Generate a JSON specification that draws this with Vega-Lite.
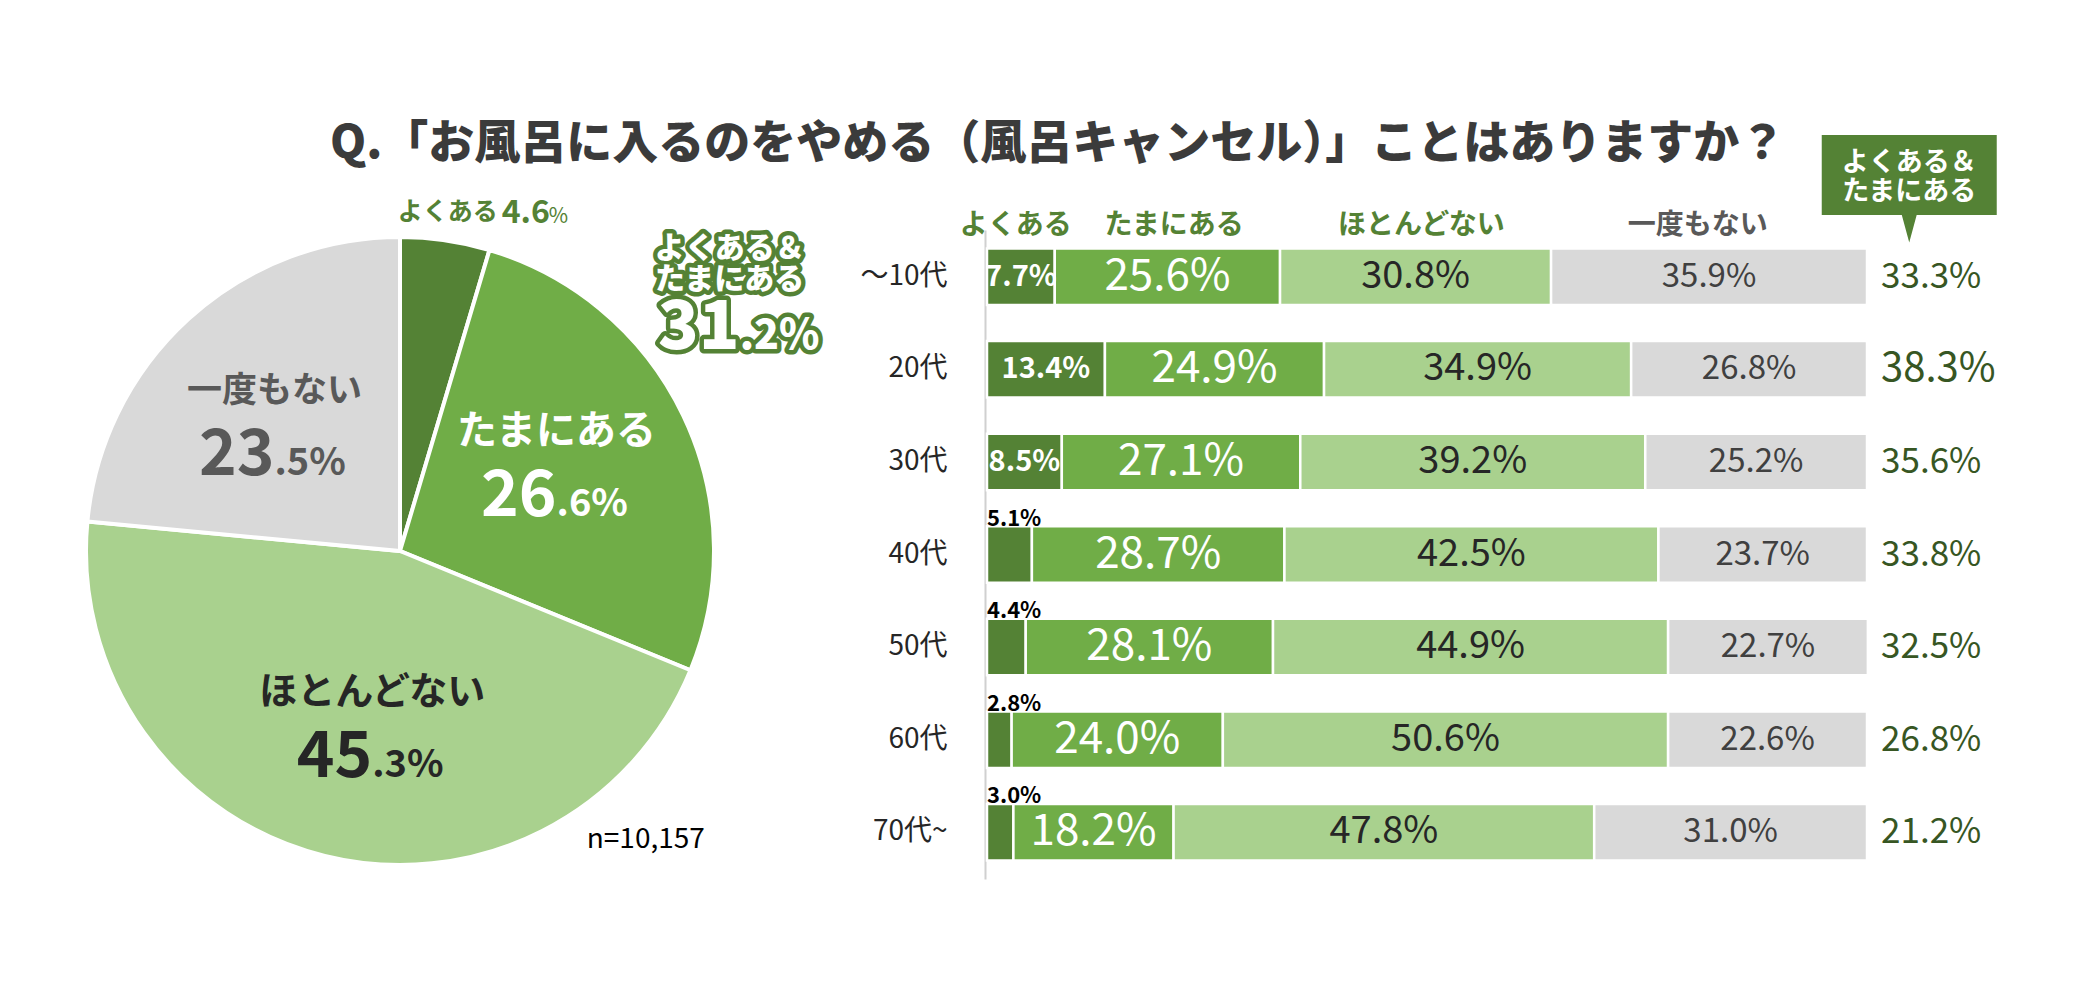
{
  "$schema": "https://vega.github.io/schema/vega-lite/v6.json",
  "background": "white",
  "padding": {"left": 78, "top": 120, "right": 10, "bottom": 10},
  "title": {
    "text": "Q.「お風呂に入るのをやめる（風呂キャンセル）」ことはありますか？",
    "font": "Noto Sans CJK JP",
    "fontSize": 46,
    "fontWeight": 900,
    "color": "#3b3b3b",
    "anchor": "start",
    "frame": "group",
    "dx": 244,
    "offset": -33
  },
  "config": {"view": {"stroke": null}, "font": "Noto Sans CJK JP"},
  "datasets": {
    "pie": [
      {"cat": "よくある", "ord": 1, "value": 4.6, "int": "", "dec": ""},
      {"cat": "たまにある", "ord": 2, "value": 26.6, "int": "26", "dec": ".6%"},
      {"cat": "ほとんどない", "ord": 3, "value": 45.3, "int": "45", "dec": ".3%"},
      {"cat": "一度もない", "ord": 4, "value": 23.5, "int": "23", "dec": ".5%"}
    ],
    "bars": [
      {"age": "～10代", "cat": "よくある", "ord": 1, "value": 0.077},
      {"age": "～10代", "cat": "たまにある", "ord": 2, "value": 0.256},
      {"age": "～10代", "cat": "ほとんどない", "ord": 3, "value": 0.308},
      {"age": "～10代", "cat": "一度もない", "ord": 4, "value": 0.359},
      {"age": "20代", "cat": "よくある", "ord": 1, "value": 0.134},
      {"age": "20代", "cat": "たまにある", "ord": 2, "value": 0.249},
      {"age": "20代", "cat": "ほとんどない", "ord": 3, "value": 0.349},
      {"age": "20代", "cat": "一度もない", "ord": 4, "value": 0.268},
      {"age": "30代", "cat": "よくある", "ord": 1, "value": 0.085},
      {"age": "30代", "cat": "たまにある", "ord": 2, "value": 0.271},
      {"age": "30代", "cat": "ほとんどない", "ord": 3, "value": 0.392},
      {"age": "30代", "cat": "一度もない", "ord": 4, "value": 0.252},
      {"age": "40代", "cat": "よくある", "ord": 1, "value": 0.051},
      {"age": "40代", "cat": "たまにある", "ord": 2, "value": 0.287},
      {"age": "40代", "cat": "ほとんどない", "ord": 3, "value": 0.425},
      {"age": "40代", "cat": "一度もない", "ord": 4, "value": 0.237},
      {"age": "50代", "cat": "よくある", "ord": 1, "value": 0.044},
      {"age": "50代", "cat": "たまにある", "ord": 2, "value": 0.281},
      {"age": "50代", "cat": "ほとんどない", "ord": 3, "value": 0.449},
      {"age": "50代", "cat": "一度もない", "ord": 4, "value": 0.227},
      {"age": "60代", "cat": "よくある", "ord": 1, "value": 0.028},
      {"age": "60代", "cat": "たまにある", "ord": 2, "value": 0.240},
      {"age": "60代", "cat": "ほとんどない", "ord": 3, "value": 0.506},
      {"age": "60代", "cat": "一度もない", "ord": 4, "value": 0.226},
      {"age": "70代~", "cat": "よくある", "ord": 1, "value": 0.030},
      {"age": "70代~", "cat": "たまにある", "ord": 2, "value": 0.182},
      {"age": "70代~", "cat": "ほとんどない", "ord": 3, "value": 0.478},
      {"age": "70代~", "cat": "一度もない", "ord": 4, "value": 0.310}
    ],
    "sums": [
      {"age": "～10代", "total": 0.333},
      {"age": "20代", "total": 0.383},
      {"age": "30代", "total": 0.356},
      {"age": "40代", "total": 0.338},
      {"age": "50代", "total": 0.325},
      {"age": "60代", "total": 0.268},
      {"age": "70代~", "total": 0.212}
    ]
  },
  "bounds": "flush",
  "spacing": 273,
  "hconcat": [
    {
      "width": 628,
      "height": 642,
      "data": {"name": "pie"},
      "layer": [
        {
          "mark": {"type": "arc", "stroke": "white", "strokeWidth": 4},
          "encoding": {
            "theta": {"field": "value", "type": "quantitative", "stack": true},
            "order": {"field": "ord", "type": "quantitative"},
            "color": {
              "field": "cat", "type": "nominal", "legend": null,
              "scale": {"domain": ["よくある", "たまにある", "ほとんどない", "一度もない"], "range": ["#548235", "#70ad47", "#a9d18e", "#d9d9d9"]}
            }
          }
        },
        {
          "mark": {"type": "text", "radius": 178, "dy": -34, "fontWeight": "bold", "baseline": "middle", "font": "Noto Sans CJK JP"},
          "encoding": {
            "theta": {"field": "value", "type": "quantitative", "stack": true, "bandPosition": 0.47},
            "order": {"field": "ord", "type": "quantitative"},
            "text": {"condition": {"test": "datum.cat === 'よくある'", "value": ""}, "field": "cat", "type": "nominal"},
            "color": {"condition": [{"test": "datum.cat === 'たまにある'", "value": "white"}, {"test": "datum.cat === 'ほとんどない'", "value": "#262626"}], "value": "#595959"},
            "size": {"condition": [{"test": "datum.cat === 'たまにある'", "value": 40}, {"test": "datum.cat === 'ほとんどない'", "value": 38}], "value": 35}
          }
        },
        {
          "mark": {"type": "text", "radius": 178, "dy": 50, "fontWeight": "bold", "baseline": "alphabetic", "align": "right", "fontSize": 64, "font": "Noto Sans CJK JP"},
          "encoding": {
            "theta": {"field": "value", "type": "quantitative", "stack": true, "bandPosition": 0.47},
            "order": {"field": "ord", "type": "quantitative"},
            "text": {"field": "int", "type": "nominal"},
            "color": {"condition": [{"test": "datum.cat === 'たまにある'", "value": "white"}, {"test": "datum.cat === 'ほとんどない'", "value": "#262626"}], "value": "#595959"}
          }
        },
        {
          "mark": {"type": "text", "radius": 178, "dy": 50, "fontWeight": "bold", "baseline": "alphabetic", "align": "left", "fontSize": 38, "font": "Noto Sans CJK JP"},
          "encoding": {
            "theta": {"field": "value", "type": "quantitative", "stack": true, "bandPosition": 0.47},
            "order": {"field": "ord", "type": "quantitative"},
            "text": {"field": "dec", "type": "nominal"},
            "color": {"condition": [{"test": "datum.cat === 'たまにある'", "value": "white"}, {"test": "datum.cat === 'ほとんどない'", "value": "#262626"}], "value": "#595959"}
          }
        },
        {
          "data": {"values": [{"t": "よくある"}]},
          "mark": {"type": "text", "radius": 354, "align": "right", "baseline": "middle", "dx": -3, "fontSize": 25, "fontWeight": "bold", "color": "#548235", "font": "Noto Sans CJK JP"},
          "encoding": {"theta": {"datum": 4.59}, "text": {"field": "t"}}
        },
        {
          "data": {"values": [{"t": "4.6"}]},
          "mark": {"type": "text", "radius": 354, "align": "left", "baseline": "alphabetic", "dx": 1, "dy": 11, "fontSize": 32, "fontWeight": "bold", "color": "#548235", "font": "Noto Sans CJK JP"},
          "encoding": {"theta": {"datum": 4.59}, "text": {"field": "t"}}
        },
        {
          "data": {"values": [{"t": "%"}]},
          "mark": {"type": "text", "radius": 354, "align": "left", "baseline": "alphabetic", "dx": 48, "dy": 11, "fontSize": 21, "color": "#548235", "font": "Noto Sans CJK JP"},
          "encoding": {"theta": {"datum": 4.59}, "text": {"field": "t"}}
        },
        {
          "data": {"values": [{"t": ["よくある＆", "たまにある"]}]},
          "mark": {"type": "text", "radius": 438, "align": "center", "baseline": "middle", "dy": -14, "lineHeight": 31, "fontSize": 30, "fontWeight": 900, "color": "#548235", "stroke": "#548235", "strokeWidth": 9, "strokeJoin": "round", "font": "Noto Sans CJK JP"},
          "encoding": {"theta": {"datum": 13.56}, "text": {"field": "t"}}
        },
        {
          "data": {"values": [{"t": ["よくある＆", "たまにある"]}]},
          "mark": {"type": "text", "radius": 438, "align": "center", "baseline": "middle", "dy": -14, "lineHeight": 31, "fontSize": 30, "fontWeight": 900, "color": "white", "font": "Noto Sans CJK JP"},
          "encoding": {"theta": {"datum": 13.56}, "text": {"field": "t"}}
        },
        {
          "data": {"values": [{"t": "31"}]},
          "mark": {"type": "text", "radius": 438, "align": "right", "baseline": "alphabetic", "dx": 10, "dy": 86, "fontSize": 67, "fontWeight": 900, "color": "#548235", "stroke": "#548235", "strokeWidth": 9, "strokeJoin": "round", "font": "Noto Sans CJK JP"},
          "encoding": {"theta": {"datum": 13.56}, "text": {"field": "t"}}
        },
        {
          "data": {"values": [{"t": ".2%"}]},
          "mark": {"type": "text", "radius": 438, "align": "left", "baseline": "alphabetic", "dx": 10, "dy": 86, "fontSize": 41, "fontWeight": 900, "color": "#548235", "stroke": "#548235", "strokeWidth": 9, "strokeJoin": "round", "font": "Noto Sans CJK JP"},
          "encoding": {"theta": {"datum": 13.56}, "text": {"field": "t"}}
        },
        {
          "data": {"values": [{"t": "31"}]},
          "mark": {"type": "text", "radius": 438, "align": "right", "baseline": "alphabetic", "dx": 10, "dy": 86, "fontSize": 67, "fontWeight": 900, "color": "white", "font": "Noto Sans CJK JP"},
          "encoding": {"theta": {"datum": 13.56}, "text": {"field": "t"}}
        },
        {
          "data": {"values": [{"t": ".2%"}]},
          "mark": {"type": "text", "radius": 438, "align": "left", "baseline": "alphabetic", "dx": 10, "dy": 86, "fontSize": 41, "fontWeight": 900, "color": "white", "font": "Noto Sans CJK JP"},
          "encoding": {"theta": {"datum": 13.56}, "text": {"field": "t"}}
        },
        {
          "data": {"values": [{"t": "n=10,157"}]},
          "mark": {"type": "text", "radius": 379, "align": "center", "baseline": "middle", "fontSize": 28, "color": "#000000", "font": "Noto Sans CJK JP"},
          "encoding": {"theta": {"datum": 38.77}, "text": {"field": "t"}}
        }
      ]
    },
    {
      "width": 880,
      "height": 649,
      "data": {"name": "bars"},
      "encoding": {
        "y": {
          "field": "age", "type": "nominal",
          "scale": {"domain": ["～10代", "20代", "30代", "40代", "50代", "60代", "70代~"], "paddingInner": 0.39, "paddingOuter": 0.2},
          "axis": {"title": null, "ticks": false, "domainColor": "#d0d0d0", "domainWidth": 2, "offset": 2, "labelFont": "Noto Sans CJK JP", "labelFontSize": 28, "labelColor": "#262626", "labelPadding": 38}
        }
      },
      "layer": [
        {
          "mark": {"type": "bar", "stroke": "white", "strokeWidth": 2.5},
          "encoding": {
            "x": {
              "field": "value", "type": "quantitative", "stack": "zero",
              "scale": {"domain": [0, 1], "nice": false},
              "axis": {
                "orient": "top", "values": [0.032, 0.212, 0.493, 0.807],
                "labelExpr": "datum.value < 0.1 ? 'よくある' : datum.value < 0.3 ? 'たまにある' : datum.value < 0.6 ? 'ほとんどない' : '一度もない'",
                "domain": false, "ticks": false, "grid": false, "title": null,
                "labelFont": "Noto Sans CJK JP", "labelFontSize": 28, "labelFontWeight": "bold",
                "labelColor": {"condition": {"test": "datum.value > 0.6", "value": "#595959"}, "value": "#548235"},
                "labelPadding": -9, "labelOverlap": false, "labelFlush": false
              }
            },
            "color": {
              "field": "cat", "type": "nominal", "legend": null,
              "scale": {"domain": ["よくある", "たまにある", "ほとんどない", "一度もない"], "range": ["#548235", "#70ad47", "#a9d18e", "#d9d9d9"]}
            },
            "order": {"field": "ord", "type": "quantitative"}
          }
        },
        {
          "mark": {"type": "text", "baseline": "middle", "font": "Noto Sans CJK JP"},
          "encoding": {
            "x": {"field": "value", "type": "quantitative", "stack": "zero", "bandPosition": 0.5, "scale": {"domain": [0, 1], "nice": false}},
            "order": {"field": "ord", "type": "quantitative"},
            "text": {"condition": {"test": "datum.cat === 'よくある'", "value": ""}, "field": "value", "type": "quantitative", "format": ".1%"},
            "color": {"condition": [{"test": "datum.cat === 'たまにある'", "value": "white"}, {"test": "datum.cat === 'ほとんどない'", "value": "#262626"}], "value": "#404040"},
            "size": {"condition": [{"test": "datum.cat === 'たまにある'", "value": 44}, {"test": "datum.cat === 'ほとんどない'", "value": 38}], "value": 33}
          }
        },
        {
          "transform": [{"filter": "datum.cat === 'よくある' && datum.value >= 0.06"}],
          "mark": {"type": "text", "baseline": "middle", "fontWeight": "bold", "fontSize": 29, "color": "white", "font": "Noto Sans CJK JP"},
          "encoding": {
            "x": {"field": "value", "type": "quantitative", "stack": "zero", "bandPosition": 0.5, "scale": {"domain": [0, 1], "nice": false}},
            "text": {"field": "value", "type": "quantitative", "format": ".1%"}
          }
        },
        {
          "transform": [{"filter": "datum.cat === 'よくある' && datum.value < 0.06"}],
          "mark": {"type": "text", "baseline": "alphabetic", "align": "left", "dy": -29, "fontWeight": "bold", "fontSize": 22, "color": "#000000", "font": "Noto Sans CJK JP"},
          "encoding": {
            "x": {"datum": 0, "scale": {"domain": [0, 1], "nice": false}},
            "text": {"field": "value", "type": "quantitative", "format": ".1%"}
          }
        },
        {
          "data": {"name": "sums"},
          "mark": {"type": "text", "baseline": "middle", "align": "left", "color": "#375623", "font": "Noto Sans CJK JP"},
          "encoding": {
            "x": {"datum": 1.016, "scale": {"domain": [0, 1], "nice": false}},
            "text": {"field": "total", "type": "quantitative", "format": ".1%"},
            "size": {"condition": {"test": "datum.total > 0.38", "value": 40}, "value": 35}
          }
        },
        {
          "data": {"values": [{"t": "box"}]},
          "mark": {"type": "point", "shape": "M-1,-0.615 L1,-0.615 L1,0.3 L0.085,0.3 L0,0.615 L-0.085,0.3 L-1,0.3 Z", "filled": true, "color": "#548235", "opacity": 1, "size": 30625, "yOffset": -88},
          "encoding": {
            "x": {"datum": 1.048, "scale": {"domain": [0, 1], "nice": false}},
            "y": {"datum": "～10代"}
          }
        },
        {
          "data": {"values": [{"t": ["よくある＆", "たまにある"]}]},
          "mark": {"type": "text", "baseline": "middle", "align": "center", "dy": -114, "lineHeight": 29, "fontSize": 27, "fontWeight": "bold", "color": "white", "font": "Noto Sans CJK JP"},
          "encoding": {
            "x": {"datum": 1.048, "scale": {"domain": [0, 1], "nice": false}},
            "y": {"datum": "～10代"},
            "text": {"field": "t"}
          }
        }
      ]
    }
  ]
}
